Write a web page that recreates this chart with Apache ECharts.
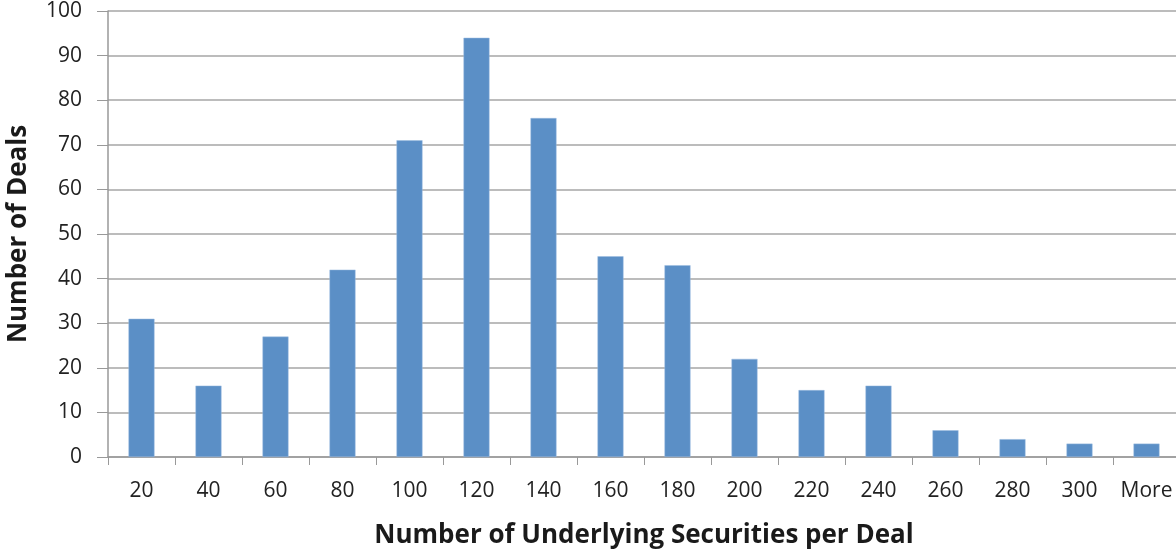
<!DOCTYPE html>
<html>
<head>
<meta charset="utf-8">
<script src="https://cdn.jsdelivr.net/npm/echarts@6/dist/echarts.min.js"></script>
<style>
  html, body { margin: 0; padding: 0; background: #fff; }
  #chart { width: 1176px; height: 555px; }
</style>
</head>
<body>
<div id="chart"></div>
<script>
var categories = ['20', '40', '60', '80', '100', '120', '140', '160', '180', '200', '220', '240', '260', '280', '300', 'More'];
var deals = [31, 16, 27, 42, 71, 94, 76, 45, 43, 22, 15, 16, 6, 4, 3, 3];

var chart = echarts.init(document.getElementById('chart'));
var font = '"Open Sans", "Liberation Sans", sans-serif';

chart.setOption({
  animation: false,
  grid: { left: 108, right: -4, top: 11, bottom: 98, containLabel: false, outerBoundsMode: 'none' },
  xAxis: {
    type: 'category',
    data: categories,
    name: 'Number of Underlying Securities per Deal',
    nameLocation: 'middle',
    nameGap: 66,
    nameTextStyle: { fontFamily: font, fontSize: 26, fontWeight: 'bold', color: '#1a1a1a' },
    axisLine: { lineStyle: { color: '#999', width: 1.5 } },
    axisTick: { show: true, interval: 0, length: 8, lineStyle: { color: '#999' } },
    axisLabel: { interval: 0, hideOverlap: false, fontFamily: font, fontSize: 21, color: '#222', margin: 24 }
  },
  yAxis: {
    type: 'value',
    min: 0,
    max: 100,
    interval: 10,
    name: 'Number of Deals',
    nameLocation: 'middle',
    nameGap: 76,
    nameTextStyle: { fontFamily: font, fontSize: 26, fontWeight: 'bold', color: '#1a1a1a' },
    axisLine: { show: true, lineStyle: { color: '#999', width: 1.5 } },
    axisTick: { show: true, length: 11, lineStyle: { color: '#999' } },
    axisLabel: { fontFamily: font, fontSize: 21, color: '#222', margin: 26 },
    splitLine: { lineStyle: { color: '#a6a6a6', width: 1.5 } }
  },
  series: [{
    type: 'bar',
    data: deals,
    barWidth: 26,
    itemStyle: { color: '#5b8fc6', borderColor: '#9dbde0', borderWidth: 0.5 }
  }]
});
</script>
</body>
</html>
